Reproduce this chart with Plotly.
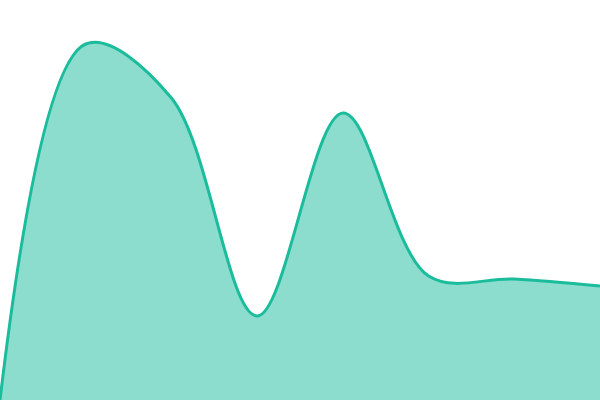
import plotly.graph_objects as go

# evenly spaced samples (0 = bottom, 400 = top)
steps = [0, 1, 2, 3, 4, 5, 6, 7]
values = [0, 356, 302, 84, 287, 124, 121, 114]

fig = go.Figure()
fig.add_trace(go.Scatter(
    x=steps, y=values,
    mode="lines",
    line=dict(color="#1abc9c", width=3, shape="spline", smoothing=1),
    fill="tozeroy",
    fillcolor="rgba(26,188,156,0.5)",
    hoverinfo="skip",
))

fig.update_xaxes(visible=False, range=[0, 7])
fig.update_yaxes(visible=False, range=[0, 400])
fig.update_layout(
    width=600, height=400,
    margin=dict(l=0, r=0, t=0, b=0),
    paper_bgcolor="white",
    plot_bgcolor="white",
    showlegend=False,
)
# page body has a default 8px margin, drop it so the chart fills the window
fig.write_html(
    "out.html",
    config={"displayModeBar": False},
    post_script="document.body.style.margin='0';",
)
